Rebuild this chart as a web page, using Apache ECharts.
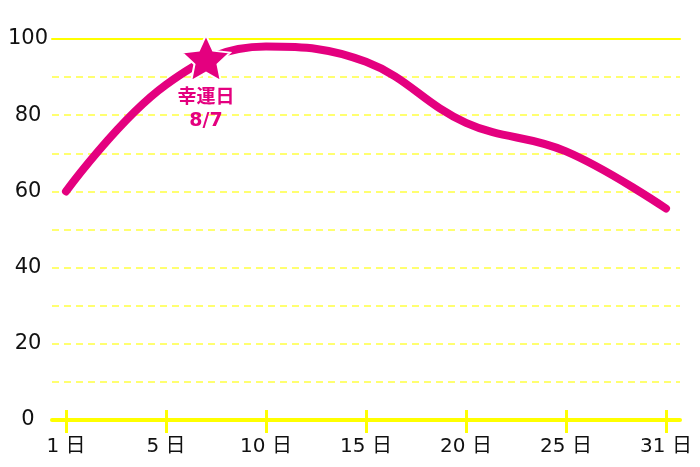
<!DOCTYPE html>
<html>
<head>
<meta charset="utf-8">
<script src="https://cdn.jsdelivr.net/npm/echarts@6/dist/echarts.min.js"></script>
<style>html,body{margin:0;padding:0;background:#fff}#c{width:700px;height:467px}</style>
</head>
<body>
<div id="c"></div>
<script>
// ---- data ----
const days = [1, 5, 10, 15, 20, 25, 31];
const values = [60, 88, 98, 94, 78, 70.5, 55.5];
const luckyDay = 7;
const luckyValue = 95;
const luckyLabel = '幸運日';
const luckyDate = '8/7';
const yLabels = [0, 20, 40, 60, 80, 100];

// axis position of a day (labelled days equally spaced)
function dayPos(d) {
  for (let i = 0; i < days.length - 1; i++) {
    if (d >= days[i] && d <= days[i + 1]) return i + (d - days[i]) / (days[i + 1] - days[i]);
  }
  return days.length - 1;
}
const positions = days.map((d, i) => i);
const lineData = values.map((v, i) => [positions[i], v]);

const PINK = '#e4007f';
const YELLOW = '#ffff00';
const FONT = "'DejaVu Sans', 'Noto Sans CJK JP', sans-serif";
// fat five-point star
function starPath(inner) {
  const pts = [];
  for (let k = 0; k < 10; k++) {
    const r = k % 2 === 0 ? 50 : 50 * inner;
    const a = -Math.PI / 2 + k * Math.PI / 5;
    pts.push((50 + r * Math.cos(a)).toFixed(2) + ',' + (50 + r * Math.sin(a)).toFixed(2));
  }
  return 'path://M' + pts.join(' L') + ' Z';
}
const STAR = starPath(0.48);

const chart = echarts.init(document.getElementById('c'), null, {renderer: 'canvas'});
const xBase = {type: 'value', min: -0.14, max: days.length - 1 + 0.14, splitLine: {show: false}};
chart.setOption({
  animation: false,
  grid: {left: 52, right: 20, top: 39, bottom: 47},
  xAxis: [
    Object.assign({}, xBase, {
      position: 'bottom',
      axisLine: {show: true, lineStyle: {color: YELLOW, width: 4}},
      axisTick: {show: true, customValues: positions, length: 13, lineStyle: {color: YELLOW, width: 3}},
      axisLabel: {
        customValues: positions, margin: 17, color: '#111', fontSize: 20, fontFamily: FONT,
        formatter: v => days[Math.round(v)] + ' 日'
      }
    }),
    Object.assign({}, xBase, {
      position: 'bottom',
      axisLine: {show: false},
      axisTick: {show: true, inside: true, customValues: positions, length: 10, lineStyle: {color: YELLOW, width: 3}},
      axisLabel: {show: false}
    }),
    Object.assign({}, xBase, {
      position: 'top',
      axisLine: {show: true, lineStyle: {color: YELLOW, width: 2}},
      axisTick: {show: false},
      axisLabel: {show: false}
    })
  ],
  yAxis: {
    type: 'value', min: 0, max: 100, interval: 10,
    axisLine: {show: false}, axisTick: {show: false},
    axisLabel: {customValues: yLabels, align: 'center', margin: 24, color: '#111', fontSize: 21, fontFamily: FONT},
    splitLine: {show: true, lineStyle: {color: '#ffff70', width: 2, type: [7, 5]}}
  },
  series: [
    {
      type: 'line', data: lineData, smooth: 0.4, showSymbol: false, symbol: 'none',
      lineStyle: {color: PINK, width: 8, cap: 'round', join: 'round'},
      z: 3
    },
    {
      type: 'scatter', data: [[dayPos(luckyDay), luckyValue]],
      symbol: STAR, symbolSize: [48, 46], symbolKeepAspect: false,
      itemStyle: {color: PINK, opacity: 1, borderColor: '#fff', borderWidth: 2},
      label: {
        show: true, position: 'bottom', distance: 5,
        formatter: luckyLabel + '\n' + luckyDate,
        color: PINK, fontSize: 19, fontWeight: 'bold', lineHeight: 23, fontFamily: FONT
      },
      z: 4
    }
  ]
});
</script>
</body>
</html>
